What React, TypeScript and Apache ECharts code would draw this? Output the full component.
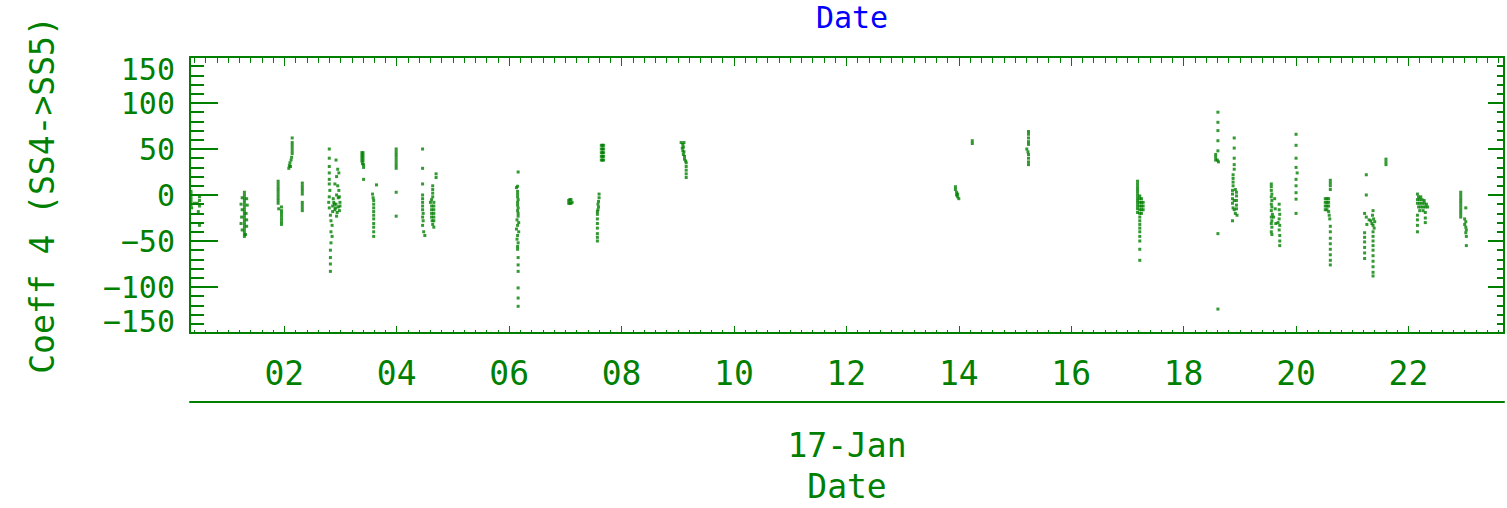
import React, { useEffect, useRef } from "react";
import * as echarts from "echarts";

// ---- axis ranges and tick labels ----
const X_MIN = 0.322;
const X_MAX = 23.7;
const majorHours = [2, 4, 6, 8, 10, 12, 14, 16, 18, 20, 22];
const yTicks = [-150, -100, -50, 0, 50, 100, 150];
const dateLabel = "17-Jan";
const yTitle = "Coeff 4 (SS4->SS5)";

// ---- data: [hour of day, coefficient] ----
const earlyPoints: number[][] = [
  [0.34, 4], [0.34, 1], [0.34, -2], [0.34, -5], [0.34, -8], [0.34, -11], [0.35, -14], [0.4, -9], [0.45, -9],
  [0.49, -2], [0.49, -6], [0.49, -12], [0.47, -18], [0.49, -33],
  [1.29, 3], [1.29, 0], [1.29, -3], [1.29, -6], [1.29, -9], [1.29, -12], [1.29, -15], [1.29, -18], [1.29, -21],
  [1.29, -24], [1.29, -27], [1.29, -30], [1.29, -33], [1.29, -36], [1.29, -39], [1.29, -42], [1.29, -45],
  [1.25, -3], [1.33, -4], [1.23, -10], [1.34, -11], [1.25, -16], [1.32, -20], [1.24, -24], [1.33, -27],
  [1.23, -31], [1.33, -34], [1.25, -38], [1.31, -43],
  [1.89, 15], [1.89, 12], [1.89, 9], [1.89, 6], [1.89, 3], [1.89, 0], [1.89, -3], [1.89, -6], [1.89, -9],
  [1.9, -15], [1.95, -13], [1.95, -17], [1.95, -20], [1.95, -23], [1.95, -26], [1.95, -29], [1.95, -32],
  [2.14, 62], [2.14, 57], [2.14, 54], [2.14, 51], [2.14, 48], [2.14, 45], [2.13, 41], [2.12, 38], [2.1, 35],
  [2.09, 32], [2.08, 29], [2.11, 31],
  [2.32, 13], [2.32, 10], [2.32, 7], [2.32, 4], [2.32, 1], [2.32, -8], [2.32, -11], [2.32, -14], [2.32, -17],
  [2.8, 50], [2.8, 40], [2.8, 31], [2.8, 24], [2.8, 17], [2.8, 12], [2.81, 5], [2.8, -2], [2.79, -8], [2.8, -14],
  [2.82, -22], [2.83, -28], [2.85, -33], [2.83, -40], [2.85, -45], [2.83, -52], [2.82, -60], [2.82, -68],
  [2.82, -75], [2.82, -83],
  [2.92, 38], [2.95, 28], [2.97, 24], [2.93, 20], [2.9, 12], [2.95, 10], [2.97, 5], [2.93, 0], [2.96, -3],
  [2.99, -8], [2.92, -10], [2.96, -13], [2.9, -16], [2.94, -19], [2.98, -17], [2.93, -23], [2.88, -8],
  [2.86, -12], [2.86, -18], [2.98, -2], [2.99, -12], [2.87, -4], [2.89, -10], [2.91, -14],
  [3.38, 46], [3.4, 46], [3.38, 43], [3.4, 43], [3.38, 40], [3.4, 40], [3.38, 37], [3.4, 37], [3.39, 34],
  [3.41, 33], [3.41, 30], [3.41, 17], [3.64, 11],
  [3.57, 1], [3.58, -3], [3.59, -6], [3.59, -10], [3.59, -14], [3.59, -18], [3.59, -22], [3.59, -26],
  [3.59, -31], [3.59, -35], [3.59, -40], [3.59, -45],
  [3.99, 50], [3.99, 47], [3.99, 44], [3.99, 41], [3.99, 38], [3.99, 35], [3.99, 32], [3.99, 29], [3.99, 3],
  [3.99, -23],
  [4.46, 50], [4.46, 29], [4.46, 12], [4.7, 23], [4.7, 19], [4.64, 10], [4.64, 6], [4.64, 2], [4.64, -2],
  [4.62, -5], [4.6, -8], [4.66, -8], [4.62, -12], [4.66, -12], [4.62, -16], [4.66, -16], [4.62, -20],
  [4.66, -20], [4.62, -24], [4.66, -24], [4.63, -28], [4.66, -28], [4.64, -32], [4.66, -35],
  [4.46, 0], [4.46, -4], [4.46, -8], [4.46, -12], [4.46, -16], [4.47, -20], [4.46, -24], [4.47, -28],
  [4.46, -33], [4.48, -40], [4.5, -44],
];

const morningPoints: number[][] = [
  [6.16, 25], [6.15, 9.5], [6.13, 8], [6.15, 4], [6.15, 1], [6.15, -2], [6.16, -5], [6.15, -8], [6.15, -11],
  [6.16, -14], [6.15, -17], [6.16, -20], [6.16, -23], [6.14, -27], [6.17, -30], [6.15, -33], [6.13, -37],
  [6.17, -40], [6.15, -44], [6.14, -48], [6.16, -52], [6.15, -56], [6.15, -59], [6.16, -68], [6.16, -76],
  [6.16, -83], [6.16, -101], [6.16, -112], [6.16, -121],
  [7.06, -6], [7.08, -5], [7.1, -5], [7.06, -9], [7.08, -9], [7.1, -9], [7.12, -8],
  [7.6, 1], [7.6, -3], [7.59, -7], [7.58, -10], [7.59, -13], [7.58, -16], [7.57, -18], [7.57, -21],
  [7.57, -26], [7.57, -31], [7.57, -36], [7.57, -42], [7.57, -46], [7.57, -50],
  [7.64, 54], [7.66, 54], [7.68, 54], [7.64, 50], [7.66, 50], [7.68, 50], [7.64, 46], [7.66, 46], [7.68, 46],
  [7.64, 42], [7.66, 42], [7.68, 42], [7.64, 38], [7.66, 38], [7.68, 38],
  [9.06, 57], [9.09, 55], [9.11, 57], [9.08, 51], [9.1, 52], [9.09, 48], [9.11, 47], [9.1, 44], [9.12, 42],
  [9.12, 39], [9.14, 37], [9.15, 35], [9.15, 31], [9.15, 27], [9.15, 23], [9.15, 19],
];

const afternoonPoints: number[][] = [
  [13.94, 9], [13.94, 6], [13.96, 3], [13.98, 1], [13.98, -2], [14.0, -4], [13.96, 0],
  [14.24, 59], [14.24, 56],
  [15.24, 69], [15.24, 66], [15.24, 62], [15.24, 58], [15.24, 55], [15.21, 50], [15.23, 47], [15.24, 44],
  [15.24, 40], [15.24, 36], [15.24, 33],
  [17.18, 15], [17.18, 12], [17.18, 9], [17.18, 6], [17.18, 3], [17.18, 0], [17.18, -3], [17.18, -6],
  [17.18, -9], [17.18, -12], [17.18, -15], [17.18, -19],
  [17.22, -1], [17.25, -4], [17.22, -4], [17.25, -8], [17.22, -8], [17.28, -8], [17.25, -12], [17.22, -12],
  [17.28, -12], [17.25, -16], [17.22, -16], [17.28, -16], [17.25, -20], [17.22, -20],
  [17.22, -24], [17.22, -28], [17.22, -32], [17.22, -36], [17.22, -40], [17.22, -45], [17.22, -50],
  [17.22, -59], [17.22, -71],
];

const eveningPoints: number[][] = [
  [18.61, 90], [18.61, 79], [18.61, 70], [18.61, 59], [18.61, 48], [18.57, 44], [18.57, 41], [18.57, 38],
  [18.6, 38], [18.62, 36], [18.61, -42], [18.61, -124],
  [18.9, 62], [18.9, 51], [18.9, 40], [18.9, 33], [18.9, 28], [18.88, 22], [18.88, 18], [18.88, 14],
  [18.88, 10], [18.87, 5], [18.92, 6], [18.94, 3], [18.87, 1], [18.94, -1], [18.87, -4], [18.9, -6],
  [18.94, -6], [18.87, -9], [18.94, -11], [18.88, -14], [18.94, -15], [18.9, -16], [18.92, -20],
  [18.95, -22], [18.87, -28],
  [19.56, 12], [19.56, 9], [19.56, 5], [19.57, 1], [19.56, -2], [19.57, -6], [19.56, -10], [19.57, -13],
  [19.56, -17], [19.58, -21], [19.56, -24], [19.57, -28], [19.56, -31], [19.57, -35], [19.56, -40],
  [19.57, -43], [19.62, -4], [19.63, -15], [19.6, -24], [19.64, -31], [19.7, -10], [19.7, -16],
  [19.71, -21], [19.7, -26], [19.68, -30], [19.71, -33], [19.7, -38], [19.71, -44], [19.71, -50], [19.71, -55],
  [20.0, 66], [20.0, 54], [20.0, 40], [20.0, 30], [20.02, 24], [20.0, 17], [20.0, 10], [20.0, 2.5],
  [20.0, -4.5], [20.0, -20],
  [20.61, 16], [20.61, 13], [20.61, 10], [20.61, 6], [20.52, -4], [20.55, -4], [20.58, -4], [20.52, -8],
  [20.55, -8], [20.58, -8], [20.52, -12], [20.55, -12], [20.58, -12], [20.52, -16], [20.55, -16],
  [20.58, -18], [20.59, -22], [20.6, -26], [20.61, -34], [20.61, -40], [20.61, -47], [20.61, -53],
  [20.61, -59], [20.61, -65], [20.61, -71], [20.61, -76],
  [21.25, 22], [21.25, 0], [21.22, -20], [21.25, -24], [21.3, -27], [21.26, -32], [21.22, -41],
  [21.22, -46], [21.22, -51], [21.22, -57], [21.22, -63], [21.22, -69], [21.37, -17], [21.36, -22],
  [21.38, -26], [21.4, -29], [21.37, -33], [21.39, -36], [21.37, -40], [21.37, -45], [21.37, -50],
  [21.37, -55], [21.37, -60], [21.37, -66], [21.37, -72], [21.37, -78], [21.37, -84], [21.37, -88],
  [21.33, -28], [21.35, -31],
  [21.6, 39], [21.6, 36], [21.6, 33],
  [22.16, 1], [22.18, -2], [22.22, -2], [22.16, -5], [22.2, -5], [22.24, -5], [22.28, -6], [22.16, -9],
  [22.2, -9], [22.24, -9], [22.28, -9], [22.32, -10], [22.18, -13], [22.22, -13], [22.26, -13],
  [22.3, -13], [22.34, -13], [22.2, -17], [22.26, -17], [22.3, -19], [22.16, -22], [22.16, -27],
  [22.16, -33], [22.16, -40], [22.3, -25], [22.3, -30],
  [22.93, 3], [22.93, 0], [22.93, -3], [22.93, -6], [22.93, -9], [22.93, -12], [22.93, -15], [22.93, -18],
  [22.93, -21], [22.93, -24], [23.02, -14], [23.0, -26], [23.02, -29], [23.0, -32], [23.02, -35],
  [23.03, -38], [23.02, -41], [23.03, -45], [23.03, -55],
];

const GREEN = "#008000";
const FONT = "DejaVu Sans Mono";

export default function App() {
  const ref = useRef<HTMLDivElement>(null);
  useEffect(() => {
    if (!ref.current) return;
    const chart = echarts.init(ref.current, undefined, { renderer: "svg" });
    const minorHours: number[] = [];
    for (let i = 2; i <= 118; i++) {
      const h = Math.round(i * 0.2 * 100) / 100;
      if (h > X_MIN && h < X_MAX && Math.abs(h / 2 - Math.round(h / 2)) > 1e-6) minorHours.push(h);
    }
    const pad = (v: number) => (v < 10 ? "0" + v : String(v));
    const mid = (X_MIN + X_MAX) / 2;
    const line = { show: true, onZero: false, lineStyle: { color: GREEN, width: 2 } };
    const noLine = { show: false, onZero: false };
    const baseX = { type: "value", min: X_MIN, max: X_MAX, splitLine: { show: false } };
    const txt = { color: GREEN, fontFamily: FONT, fontSize: 33 };
    const option: any = {
      animation: false,
      backgroundColor: "#ffffff",
      grid: { left: 190, top: 57, width: 1314, height: 285, containLabel: false },
      graphic: [
        {
          type: "text",
          x: 852,
          y: 2,
          style: { text: "Date", fill: "#0000ff", font: `30px '${FONT}'`, align: "center", verticalAlign: "top" },
        },
      ],
      xAxis: [
        {
          ...baseX,
          position: "bottom",
          axisLine: line,
          axisTick: { show: true, inside: true, length: 7, customValues: majorHours, lineStyle: { color: GREEN, width: 1 } },
          axisLabel: { show: true, customValues: majorHours, formatter: (v: number) => pad(Math.round(v)), margin: 24, ...txt },
        },
        {
          ...baseX,
          position: "bottom",
          axisLine: noLine,
          axisTick: { show: true, inside: true, length: 3, customValues: minorHours, lineStyle: { color: GREEN, width: 1 } },
          axisLabel: { show: false },
        },
        {
          ...baseX,
          position: "top",
          axisLine: line,
          axisTick: { show: true, inside: true, length: 9, customValues: majorHours, lineStyle: { color: GREEN, width: 1 } },
          axisLabel: { show: false },
        },
        {
          ...baseX,
          position: "top",
          axisLine: noLine,
          axisTick: { show: true, inside: true, length: 6, customValues: minorHours, lineStyle: { color: GREEN, width: 1 } },
          axisLabel: { show: false },
        },
        {
          ...baseX,
          position: "bottom",
          offset: 69,
          axisLine: line,
          axisTick: { show: false },
          axisLabel: { show: true, customValues: [mid], formatter: () => dateLabel, margin: 27, ...txt },
          name: "Date",
          nameLocation: "middle",
          nameGap: 68,
          nameTextStyle: txt,
        },
      ],
      yAxis: [
        {
          type: "value",
          position: "left",
          min: yTicks[0],
          max: yTicks[yTicks.length - 1],
          interval: 50,
          splitLine: { show: false },
          axisLine: line,
          axisTick: { show: true, inside: true, length: 28, lineStyle: { color: GREEN, width: 2 } },
          minorTick: { show: true, splitNumber: 5, length: 14, lineStyle: { color: GREEN, width: 2 } },
          axisLabel: {
            show: true,
            margin: 15,
            showMinLabel: true,
            showMaxLabel: true,
            hideOverlap: false,
            formatter: (v: number) => (v < 0 ? "\u2212" + Math.abs(v) : String(v)),
            verticalAlignMaxLabel: "top",
            verticalAlignMinLabel: "bottom",
            ...txt,
            fontSize: 30,
            lineHeight: 24,
          },
          name: yTitle,
          nameLocation: "middle",
          nameGap: 131,
          nameTextStyle: txt,
        },
        {
          type: "value",
          position: "right",
          min: yTicks[0],
          max: yTicks[yTicks.length - 1],
          interval: 50,
          splitLine: { show: false },
          axisLine: line,
          axisTick: { show: true, inside: true, length: 16, lineStyle: { color: GREEN, width: 2 } },
          minorTick: { show: true, splitNumber: 5, length: 7, lineStyle: { color: GREEN, width: 2 } },
          axisLabel: { show: false },
        },
      ],
      series: [earlyPoints, morningPoints, afternoonPoints, eveningPoints].map((d) => ({
        type: "scatter",
        xAxisIndex: 0,
        yAxisIndex: 0,
        data: d,
        symbol: "rect",
        symbolSize: 3,
        itemStyle: { color: GREEN },
        silent: true,
      })),
    };
    chart.setOption(option);
    return () => chart.dispose();
  }, []);
  return <div ref={ref} style={{ position: "fixed", left: 0, top: 0, width: 1507, height: 508, background: "#fff" }} />;
}
